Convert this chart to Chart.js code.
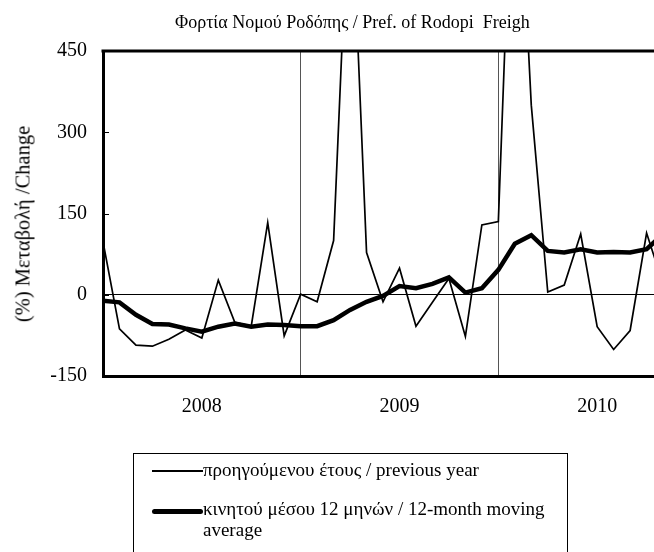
<!DOCTYPE html>
<html>
<head>
<meta charset="utf-8">
<script src="https://cdn.jsdelivr.net/npm/chart.js@4.4.1/dist/chart.umd.min.js"></script>
<style>
  body { margin: 0; background: #fff; font-family: "Liberation Serif", "Times New Roman", serif; }
  #wrap { position: relative; width: 654px; height: 552px; overflow: hidden; }
  #chart { position: absolute; left: 0; top: 0; }
  #title { position: absolute; left: 175px; top: 12px; font-size: 18px; white-space: nowrap; color: #000; }
  #ytitle { position: absolute; left: 23px; top: 224px; font-size: 20.5px; white-space: nowrap; color: #000;
            transform: translate(-50%, -50%) rotate(-90deg); }
  #legend { position: absolute; left: 133px; top: 453px; width: 433px; height: 120px; border: 1px solid #000;
            font-size: 19px; color: #000; }
  .item { display: flex; align-items: flex-start; position: absolute; left: 18px; }
  .sample { width: 51px; margin-top: 11px; background: #000; flex: none; }
  .txt { width: 360px; line-height: 21px; }
</style>
</head>
<body>
<div id="wrap">
  <canvas id="chart" width="654" height="552"></canvas>
  <div id="title">Φορτία Νομού Ροδόπης / Pref. of Rodopi&nbsp; Freigh</div>
  <div id="ytitle">(%) Μεταβολή /Change</div>
  <div id="legend"></div>
</div>
<script>
const Chart = window.Chart;

// monthly values, first point = Jan 2008
let yearLabels = ["2008", "2009", "2010"];
let prevYear = [
  98, -63, -93, -95, -82, -65, -80, 27, -51, -58, 133, -76,
  1, -13, 100, 805, 78, -13, 49, -58, -14, 30, -77, 129,
  135, 950, 350, 5, 18, 112, -59, -101, -66, 114, 20,
];
let movingAvg = [
  -11, -14, -37, -54, -55, -62, -68, -59, -53, -59, -55, -56,
  -58, -58, -47, -28, -13, -2, 16, 12, 20, 32, 4, 12,
  46, 94, 110, 81, 78, 84, 78, 79, 78, 84, 112,
];
let seriesNames = [
  "προηγούμενου έτους / previous year",
  "κινητού μέσου 12 μηνών / 12-month moving average",
];
let yTicks = [-150, 0, 150, 300, 450];

const toPoints = (arr) => arr.map((v, i) => ({ x: i, y: v }));

// top frame line + small inward ticks on the value axis
const framePlugin = {
  id: "frame",
  afterDraw(chart) {
    const { ctx, chartArea: a, scales } = chart;
    ctx.save();
    ctx.strokeStyle = "#000";
    ctx.lineWidth = 3;
    ctx.beginPath();
    ctx.moveTo(a.left - 1.5, a.top);
    ctx.lineTo(a.right, a.top);
    ctx.stroke();
    ctx.lineWidth = 1;
    ctx.beginPath();
    scales.y.ticks.forEach((t) => {
      const py = Math.round(scales.y.getPixelForValue(t.value)) + 0.5;
      ctx.moveTo(a.left, py);
      ctx.lineTo(a.left + 6, py);
    });
    ctx.stroke();
    ctx.restore();
  },
};

const chart = new Chart(document.getElementById("chart").getContext("2d"), {
  type: "line",
  data: {
    datasets: [
      {
        label: seriesNames[0],
        data: toPoints(prevYear),
        borderColor: "#000",
        borderWidth: 1.7,
        pointRadius: 0,
        tension: 0,
      },
      {
        label: seriesNames[1],
        data: toPoints(movingAvg),
        borderColor: "#000",
        borderWidth: 4.5,
        pointRadius: 0,
        tension: 0,
      },
    ],
  },
  options: {
    responsive: false,
    animation: false,
    layout: { padding: { top: 51, right: 0, bottom: 0, left: 0 } },
    plugins: {
      legend: { display: false },
      title: { display: false },
      tooltip: { enabled: false },
    },
    scales: {
      x: {
        type: "linear",
        min: 0,
        max: 33.45,
        afterBuildTicks: (scale) => {
          scale.ticks = [0, 6, 12, 18, 24, 30].map((v) => ({ value: v }));
        },
        afterFit: (scale) => {
          scale.height = 176;
        },
        ticks: {
          autoSkip: false,
          maxRotation: 0,
          padding: 19,
          color: "#000",
          font: { family: "'Liberation Serif', serif", size: 20 },
          callback: (v) => (v % 12 === 6 ? yearLabels[(v - 6) / 12] : ""),
        },
        grid: {
          drawTicks: false,
          color: (ctx) =>
            ctx.tick && ctx.tick.value > 0 && ctx.tick.value % 12 === 0 ? "#555" : "rgba(0,0,0,0)",
          lineWidth: 1,
        },
        border: { color: "#000", width: 3 },
      },
      y: {
        min: -150,
        max: 450,
        afterBuildTicks: (scale) => {
          scale.ticks = yTicks.map((v) => ({ value: v }));
        },
        afterFit: (scale) => {
          scale.width = 103;
        },
        ticks: {
          padding: 16,
          color: "#000",
          font: { family: "'Liberation Serif', serif", size: 20 },
        },
        grid: {
          drawTicks: false,
          color: (ctx) => (ctx.tick && ctx.tick.value === 0 ? "#000" : "rgba(0,0,0,0)"),
          lineWidth: 1,
        },
        border: { color: "#000", width: 3 },
      },
    },
  },
  plugins: [framePlugin],
});

// legend built from the dataset labels
const legend = document.getElementById("legend");
chart.data.datasets.forEach((ds, i) => {
  const item = document.createElement("div");
  item.className = "item";
  item.style.top = i === 0 ? "5px" : "44px";
  const s = document.createElement("div");
  s.className = "sample";
  s.style.height = Math.max(1.5, ds.borderWidth) + "px";
  if (i === 1) s.style.borderRadius = "3px";
  const t = document.createElement("div");
  t.className = "txt";
  t.textContent = ds.label;
  item.appendChild(s);
  item.appendChild(t);
  legend.appendChild(item);
});
</script>
</body>
</html>
